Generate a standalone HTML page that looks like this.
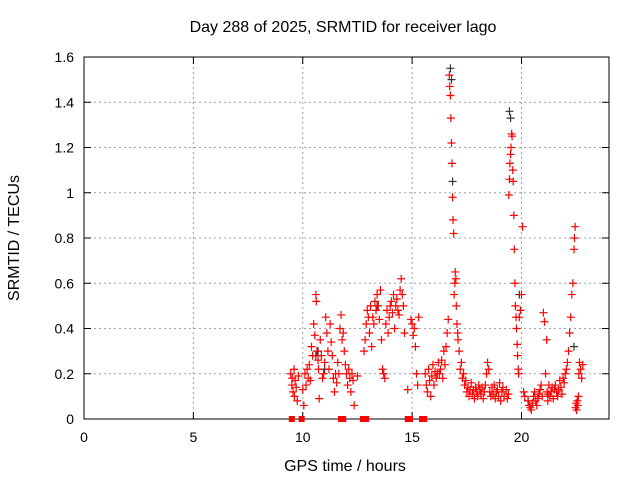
<!DOCTYPE html>
<html><head><meta charset="utf-8"><style>
body{margin:0;background:#fff}
svg{display:block;font-family:"Liberation Sans",sans-serif}
</style></head><body>
<svg id="chart" width="640" height="480" viewBox="0 0 640 480" xmlns="http://www.w3.org/2000/svg">
<rect width="640" height="480" fill="#fff"/>
<text x="343" y="32" font-size="16" text-anchor="middle">Day 288 of 2025, SRMTID for receiver lago</text>
<text x="345" y="471" font-size="16" text-anchor="middle">GPS time / hours</text>
<text transform="translate(19,238) rotate(-90)" font-size="16" text-anchor="middle">SRMTID / TECUs</text>
<g id="grid"></g><g id="axes"></g><g id="marks"></g>
</svg>
<script>
const xTicks=[0,5,10,15,20];
const yTicks=[0,0.2,0.4,0.6,0.8,1,1.2,1.4,1.6];
const yTickLabels=["0","0.2","0.4","0.6","0.8","1","1.2","1.4","1.6"];
const redT=[9.45,9.5,9.52,9.55,9.6,9.62,9.65,9.7,9.75,9.8,10.0,10.05,10.1,10.15,10.2,10.25,10.3,10.35,10.4,10.45,10.5,10.55,10.6,10.62,10.65,10.7,10.72,10.75,10.8,10.85,10.9,10.95,11.0,11.05,11.1,11.15,11.2,11.25,11.3,11.35,11.4,11.45,11.5,11.55,11.6,11.65,11.7,11.75,11.8,11.85,11.9,11.95,12.0,12.05,12.1,12.15,12.2,12.25,12.3,12.35,12.5,12.8,12.85,12.9,12.95,13.0,13.05,13.1,13.15,13.2,13.25,13.3,13.35,13.4,13.45,13.5,13.55,13.6,13.65,13.7,13.75,13.8,13.85,13.9,13.95,14.0,14.05,14.1,14.15,14.2,14.25,14.3,14.35,14.4,14.45,14.5,14.55,14.6,14.65,14.8,14.95,15.0,15.05,15.1,15.15,15.2,15.25,15.3,15.6,15.65,15.7,15.75,15.8,15.85,15.9,15.95,16.0,16.05,16.1,16.15,16.2,16.25,16.3,16.35,16.4,16.45,16.5,16.55,16.6,16.65,16.7,16.72,16.75,16.77,16.8,16.82,16.85,16.87,16.9,16.92,16.95,16.97,17.0,17.02,17.05,17.08,17.1,17.15,17.2,17.25,17.3,17.35,17.4,17.45,17.5,17.55,17.6,17.65,17.7,17.75,17.8,17.85,17.9,17.95,18.0,18.05,18.1,18.15,18.2,18.25,18.3,18.35,18.4,18.45,18.5,18.55,18.6,18.65,18.7,18.75,18.8,18.85,18.9,18.95,19.0,19.05,19.1,19.15,19.2,19.3,19.35,19.4,19.42,19.45,19.47,19.5,19.52,19.55,19.57,19.6,19.62,19.65,19.67,19.7,19.72,19.75,19.77,19.8,19.82,19.85,19.87,19.9,19.95,20.0,20.05,20.1,20.15,20.3,20.35,20.4,20.45,20.5,20.55,20.6,20.65,20.7,20.75,20.8,20.85,20.9,20.95,21.0,21.05,21.1,21.15,21.17,21.2,21.22,21.25,21.3,21.35,21.4,21.45,21.5,21.55,21.6,21.65,21.7,21.75,21.8,21.85,21.9,21.95,22.0,22.05,22.1,22.15,22.2,22.25,22.3,22.35,22.4,22.42,22.45,22.47,22.5,22.52,22.55,22.57,22.6,22.62,22.65,22.7,22.75,22.8,22.85,22.9,22.95];
const redV=[0.2,0.15,0.18,0.12,0.22,0.1,0.17,0.14,0.08,0.19,0.13,0.06,0.2,0.15,0.22,0.18,0.24,0.17,0.32,0.28,0.42,0.37,0.55,0.52,0.3,0.26,0.22,0.09,0.35,0.28,0.18,0.2,0.25,0.45,0.38,0.3,0.22,0.42,0.34,0.28,0.18,0.12,0.2,0.16,0.25,0.2,0.4,0.46,0.35,0.38,0.3,0.24,0.2,0.15,0.22,0.18,0.12,0.2,0.17,0.06,0.19,0.3,0.35,0.42,0.48,0.45,0.38,0.5,0.32,0.45,0.42,0.52,0.48,0.55,0.5,0.44,0.57,0.35,0.22,0.2,0.18,0.42,0.48,0.38,0.45,0.5,0.52,0.47,0.55,0.4,0.5,0.53,0.48,0.46,0.57,0.62,0.55,0.5,0.38,0.13,0.44,0.42,0.37,0.4,0.32,0.2,0.15,0.45,0.2,0.15,0.12,0.22,0.17,0.1,0.19,0.24,0.15,0.21,0.18,0.2,0.25,0.2,0.22,0.26,0.18,0.3,0.24,0.32,0.38,0.44,1.52,1.47,1.43,1.33,1.22,1.13,0.98,0.88,0.82,0.55,0.6,0.65,0.62,0.5,0.42,0.38,0.35,0.3,0.22,0.25,0.18,0.2,0.15,0.17,0.12,0.14,0.1,0.13,0.16,0.11,0.13,0.09,0.14,0.12,0.1,0.15,0.13,0.11,0.14,0.09,0.12,0.15,0.2,0.25,0.22,0.12,0.1,0.14,0.11,0.15,0.09,0.12,0.13,0.1,0.16,0.08,0.12,0.14,0.1,0.13,0.09,0.11,0.99,1.06,1.13,1.17,1.2,1.26,1.25,1.1,1.05,0.9,0.75,0.6,0.5,0.45,0.4,0.33,0.28,0.22,0.2,0.45,0.48,0.55,0.85,0.12,0.1,0.08,0.06,0.05,0.04,0.07,0.1,0.12,0.08,0.06,0.09,0.11,0.13,0.15,0.1,0.47,0.43,0.2,0.35,0.12,0.08,0.11,0.15,0.1,0.12,0.14,0.09,0.13,0.15,0.12,0.1,0.13,0.17,0.14,0.11,0.18,0.16,0.2,0.22,0.25,0.3,0.38,0.45,0.55,0.6,0.75,0.8,0.85,0.05,0.07,0.04,0.08,0.06,0.1,0.2,0.25,0.22,0.18,0.24];
const blackT=[10.6,10.7,11.0,13.4,16.75,16.8,16.85,19.45,19.5,19.9,20.3,22.4];
const blackV=[0.28,0.3,0.22,0.5,1.55,1.5,1.05,1.36,1.33,0.55,0.08,0.32];
const zeroT=[9.5,9.95,11.75,11.85,12.75,12.9,14.8,14.9,15.45,15.55];

const X0=84,X1=609,Y0=419,Y1=57;
const xs=h=>X0+(h/24)*(X1-X0);
const ys=v=>Y0-(v/1.6)*(Y0-Y1);
const NS="http://www.w3.org/2000/svg";
function mk(tag,attrs,parent){const e=document.createElementNS(NS,tag);for(const k in attrs)e.setAttribute(k,attrs[k]);parent.appendChild(e);return e;}
const grid=document.getElementById('grid'),axes=document.getElementById('axes'),marks=document.getElementById('marks');
xTicks.forEach(t=>{const x=xs(t);
 if(t>0){const g=mk('line',{x1:x,y1:Y0,x2:x,y2:Y1,stroke:'#a0a0a0','stroke-dasharray':'2,3'},grid);
 }
 mk('line',{x1:x,y1:Y0,x2:x,y2:Y0-7,stroke:'#000'},axes);mk('line',{x1:x,y1:Y1,x2:x,y2:Y1+7,stroke:'#000'},axes);
 const l=mk('text',{x:x,y:Y0+23,'font-size':14,'text-anchor':'middle'},axes);l.textContent=t;
 });
yTicks.forEach((t,i)=>{const y=ys(t);
 if(i>0&&i<yTicks.length-1){const g=mk('line',{x1:X0,y1:y,x2:X1,y2:y,stroke:'#a0a0a0','stroke-dasharray':'2,3'},grid);
 }
 mk('line',{x1:X0,y1:y,x2:X0+7,y2:y,stroke:'#000'},axes);mk('line',{x1:X1,y1:y,x2:X1-7,y2:y,stroke:'#000'},axes);
 const l=mk('text',{x:X0-10,y:y+5,'font-size':14,'text-anchor':'end'},axes);l.textContent=yTickLabels[i];
 });
const fr=mk('rect',{x:X0,y:Y1,width:X1-X0,height:Y0-Y1,fill:'none',stroke:'#000'},axes);

function cross(h,v,c,name){const x=xs(h),y=ys(v);
 const p=mk('path',{d:`M${x-4},${y}H${x+4}M${x},${y-4}V${y+4}`,stroke:c,'stroke-width':1.2,fill:'none'},marks);
 }
blackT.forEach((h,i)=>cross(h,blackV[i],'#333','black-point'));
redT.forEach((h,i)=>cross(h,redV[i],'#f00','red-point'));
zeroT.forEach(h=>{const r=mk('rect',{x:xs(h)-3,y:Y0-3,width:6,height:6,fill:'#f00'},marks);
 });
</script>
</body></html>
